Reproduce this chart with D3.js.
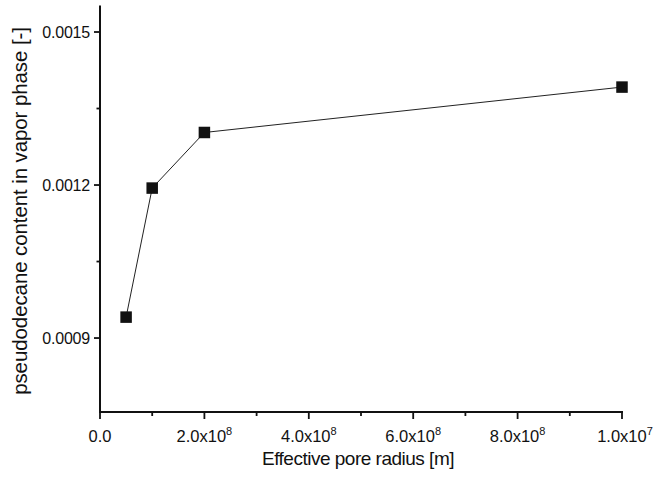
<!DOCTYPE html>
<html>
<head>
<meta charset="utf-8">
<script src="https://cdn.jsdelivr.net/npm/d3@7"></script>
<style>
  html, body { margin: 0; padding: 0; background: #fff; }
  svg { display: block; font-family: "Liberation Sans", Arial, sans-serif; }
</style>
</head>
<body>
<svg id="chart" width="653" height="483"></svg>
<script>
// Effective pore radius [m]
const radius = [5e-9, 1e-8, 2e-8, 1e-7];
// Pseudodecane content in vapor phase [-]
const content = [0.000941, 0.001194, 0.001303, 0.001392];

const xMajorTicks = [0, 2e-8, 4e-8, 6e-8, 8e-8, 1e-7];
const xMinorTicks = [1e-8, 3e-8, 5e-8, 7e-8, 9e-8];
const xTickMantissa = ["0.0", "2.0x10", "4.0x10", "6.0x10", "8.0x10", "1.0x10"];
const xTickExponent = ["", "8", "8", "8", "8", "7"];

const yMajorTicks = [0.0009, 0.0012, 0.0015];
const yMinorTicks = [0.00105, 0.00135];
const yTickLabels = ["0.0009", "0.0012", "0.0015"];

const svg = d3.select("#chart");

const x = d3.scaleLinear().domain([0, 1e-7]).range([100, 622]);
const y = d3.scaleLinear().domain([0.000755, 0.00155]).range([412, 6.5]);

// Axis frame (left and bottom only)
const axes = svg.append("g").attr("stroke", "#111").attr("stroke-width", 2).attr("fill", "none");
axes.append("line").attr("x1", x(0)).attr("x2", x(0)).attr("y1", y.range()[1] - 1).attr("y2", y.range()[0] + 1);
axes.append("line").attr("x1", x(0) - 1).attr("x2", x(1e-7) + 1).attr("y1", y.range()[0]).attr("y2", y.range()[0]);

// X ticks
const xt = svg.append("g").attr("stroke", "#111").attr("stroke-width", 1.8);
xt.selectAll(".maj").data(xMajorTicks).join("line")
  .attr("x1", d => x(d)).attr("x2", d => x(d))
  .attr("y1", y.range()[0]).attr("y2", y.range()[0] + 7);
xt.selectAll(".min").data(xMinorTicks).join("line")
  .attr("x1", d => x(d)).attr("x2", d => x(d))
  .attr("y1", y.range()[0]).attr("y2", y.range()[0] + 4);

// X tick labels with superscript exponent
const xl = svg.append("g").attr("font-size", 16.5).attr("fill", "#111");
xMajorTicks.forEach((d, i) => {
  const t = xl.append("text")
    .attr("x", x(d) + (i === xMajorTicks.length - 1 ? 3 : 0))
    .attr("y", 442)
    .attr("text-anchor", "middle");
  t.append("tspan").text(xTickMantissa[i]);
  if (xTickExponent[i]) {
    t.append("tspan").attr("dy", -7).attr("font-size", 11).text(xTickExponent[i]);
  }
});

// Y ticks
const yt = svg.append("g").attr("stroke", "#111").attr("stroke-width", 1.8);
yt.selectAll(".maj").data(yMajorTicks).join("line")
  .attr("x1", x(0) - 6).attr("x2", x(0))
  .attr("y1", d => y(d)).attr("y2", d => y(d));
yt.selectAll(".min").data(yMinorTicks).join("line")
  .attr("x1", x(0) - 3.5).attr("x2", x(0))
  .attr("y1", d => y(d)).attr("y2", d => y(d));

// Y tick labels
svg.append("g").attr("font-size", 16).attr("fill", "#111").attr("letter-spacing", "-0.2")
  .selectAll("text").data(yMajorTicks).join("text")
  .attr("x", x(0) - 10)
  .attr("y", d => y(d) + 6)
  .attr("text-anchor", "end")
  .text((d, i) => yTickLabels[i]);

// Axis titles
svg.append("text")
  .attr("x", 358).attr("y", 465)
  .attr("text-anchor", "middle")
  .attr("font-size", 19).attr("letter-spacing", "-0.5").attr("fill", "#111")
  .text("Effective pore radius [m]");

svg.append("text")
  .attr("transform", "translate(27,211) rotate(-90)")
  .attr("text-anchor", "middle")
  .attr("font-size", 20.5).attr("letter-spacing", "-0.1").attr("fill", "#111")
  .text("pseudodecane content in vapor phase [-]");

// Data line and square markers
const pts = radius.map((r, i) => [r, content[i]]);
svg.append("path")
  .datum(pts)
  .attr("fill", "none")
  .attr("stroke", "#222")
  .attr("stroke-width", 1)
  .attr("d", d3.line().x(d => x(d[0])).y(d => y(d[1])));

const s = 11.5;
svg.append("g").selectAll("rect").data(pts).join("rect")
  .attr("x", d => x(d[0]) - s / 2)
  .attr("y", d => y(d[1]) - s / 2)
  .attr("width", s).attr("height", s)
  .attr("fill", "#111");
</script>
</body>
</html>
